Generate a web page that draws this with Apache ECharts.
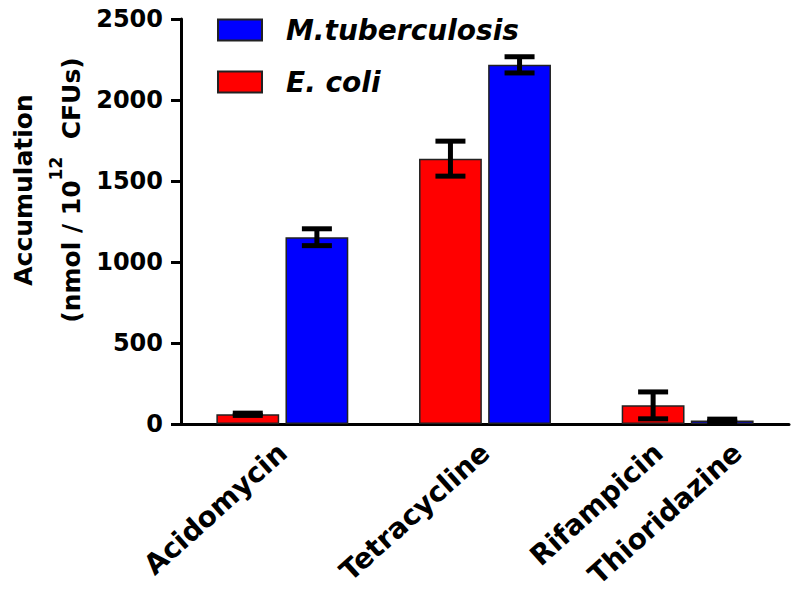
<!DOCTYPE html>
<html><head><meta charset="utf-8">
<script src="https://cdn.jsdelivr.net/npm/echarts@6/dist/echarts.min.js"></script>
<style>html,body{margin:0;padding:0;background:#fff}#c{width:800px;height:604px}</style>
</head><body><div id="c"></div>
<script>
// ---- data ----
const groups = ['Acidomycin', 'Tetracycline', 'Rifampicin / Thioridazine'];
const ecoliValues = [60, 1638, 115];
const ecoliErrors = [7, 108, 83];
const mtbValues = [1153, 2217, 22];
const mtbErrors = [52, 50, 8];
const drugLabels = ['Acidomycin', 'Tetracycline', 'Rifampicin', 'Thioridazine'];
const drugLabelGroup = [0, 1, 2, 2];
const drugLabelSide = [0, 0, -1, 1];   // 0 = group centre, -1 = E. coli bar, 1 = M.tb bar
const yMin = 0, yMax = 2500, yStep = 500;
const seriesNames = ['M.tuberculosis', 'E. coli'];

// ---- styling ----
const RED = '#ff0000', BLUE = '#0000ff';
const BAR_W = 0.31, BAR_GAP = 0.10;
const FONT = '"DejaVu Sans", "Liberation Sans", Arial, sans-serif';

function barOffset(bw, side) {
  const w = bw * BAR_W;
  return side * (w / 2 + w * BAR_GAP / 2);
}
function errorItem(side) {
  return function (params, api) {
    const g = api.value(0), v = api.value(1), e = api.value(2);
    const bw = api.size([1, 0])[0];
    const top = api.coord([g, v + e]);
    const bot = api.coord([g, Math.max(0, v - e)]);
    const x = top[0] + barOffset(bw, side);
    const cap = 15;
    const style = { stroke: '#000', lineWidth: 5, fill: null };
    return { type: 'group', children: [
      { type: 'line', shape: { x1: x, y1: top[1], x2: x, y2: bot[1] }, style },
      { type: 'line', shape: { x1: x - cap, y1: top[1], x2: x + cap, y2: top[1] }, style },
      { type: 'line', shape: { x1: x - cap, y1: bot[1], x2: x + cap, y2: bot[1] }, style }
    ]};
  };
}
const labelShift = { '-1': -4, '0': -9, '1': 6 };
function labelItem(params, api) {
  const g = api.value(0), side = api.value(2);
  const bw = api.size([1, 0])[0];
  const c = api.coord([g, 0]);
  const x = c[0] + barOffset(bw, side) + labelShift[String(side)];
  return {
    type: 'text', x: x, y: c[1] + 14, rotation: 42 * Math.PI / 180,
    style: { text: drugLabels[params.dataIndex], align: 'right', verticalAlign: 'top',
      fontFamily: FONT, fontWeight: 'bold', fontSize: 28, fill: '#000' }
  };
}

const chart = echarts.init(document.getElementById('c'), null, { renderer: 'svg' });
chart.setOption({
  animation: false,
  backgroundColor: '#fff',
  grid: { left: 181, right: 11, top: 19, bottom: 180, containLabel: false },
  legend: {
    data: seriesNames, orient: 'vertical', left: 217, top: 16,
    itemWidth: 44, itemHeight: 21, itemGap: 24, padding: 0, icon: 'rect',
    textStyle: { fontFamily: FONT, fontWeight: 'bold', fontStyle: 'italic', fontSize: 28,
      color: '#000', padding: [0, 0, 0, 19], lineHeight: 21 }
  },
  xAxis: {
    type: 'category', data: groups, boundaryGap: true,
    axisLine: { lineStyle: { color: '#000', width: 3 } },
    axisTick: { alignWithLabel: true, length: 11, lineStyle: { color: '#000', width: 3 } },
    axisLabel: { show: false }, splitLine: { show: false }
  },
  yAxis: {
    type: 'value', min: yMin, max: yMax, interval: yStep,
    axisLine: { show: true, lineStyle: { color: '#000', width: 3 } },
    axisTick: { show: true, length: 10, lineStyle: { color: '#000', width: 3 } },
    axisLabel: { margin: 18, color: '#000', fontFamily: FONT, fontWeight: 'bold', fontSize: 24,
      formatter: v => String(v) },
    splitLine: { show: false }
  },
  graphic: [{
    type: 'text', x: 47, y: 190, rotation: Math.PI / 2,
    style: {
      text: '{a|Accumulation}\n{b|(nmol / 10}{s|12}{b|  CFUs)}',
      align: 'center', verticalAlign: 'middle', fill: '#000',
      rich: {
        a: { fontFamily: FONT, fontWeight: 'bold', fontSize: 25, lineHeight: 48 },
        b: { fontFamily: FONT, fontWeight: 'bold', fontSize: 25, lineHeight: 48 },
        s: { fontFamily: FONT, fontWeight: 'bold', fontSize: 17, lineHeight: 38, verticalAlign: 'top' }
      }
    }
  }],
  series: [
    { name: 'E. coli', type: 'bar', data: ecoliValues, barWidth: (BAR_W * 100) + '%', barGap: (BAR_GAP * 100) + '%',
      itemStyle: { color: RED, borderColor: '#222', borderWidth: 1.5 } },
    { name: 'M.tuberculosis', type: 'bar', data: mtbValues, barWidth: (BAR_W * 100) + '%', barGap: (BAR_GAP * 100) + '%',
      itemStyle: { color: BLUE, borderColor: '#222', borderWidth: 1.5 } },
    { name: 'E. coli err', type: 'custom', renderItem: errorItem(-1), z: 5,
      encode: { x: 0, y: 1 }, data: ecoliValues.map((v, i) => [i, v, ecoliErrors[i]]) },
    { name: 'M.tb err', type: 'custom', renderItem: errorItem(1), z: 5,
      encode: { x: 0, y: 1 }, data: mtbValues.map((v, i) => [i, v, mtbErrors[i]]) },
    { name: 'drug labels', type: 'custom', renderItem: labelItem, clip: false, silent: true,
      encode: { x: 0, y: 1 }, data: drugLabels.map((n, i) => [drugLabelGroup[i], 0, drugLabelSide[i]]) }
  ]
});
</script></body></html>
